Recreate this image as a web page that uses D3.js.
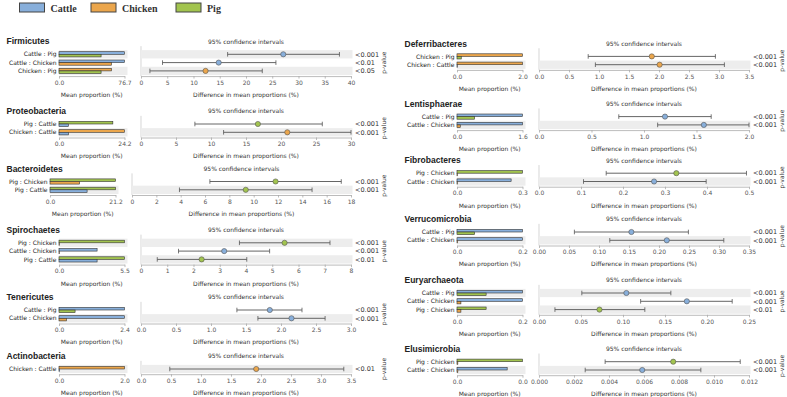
<!DOCTYPE html>
<html lang="en">
<head>
<meta charset="UTF-8" />
<title>STAMP phylum comparison</title>
<style>
  body { margin: 0; background: #fff; }
  text { font-family: "DejaVu Sans", sans-serif; }
</style>
</head>
<body>
<div class="chart"></div>
<script src="https://d3js.org/d3.v7.min.js"></script>
<script>
// hosts
const groups = ['Cattle', 'Chicken', 'Pig'];
const groupColors = ['#88afdb', '#eba64c', '#a2c44f'];

const phyla = ['Firmicutes', 'Proteobacteria', 'Bacteroidetes', 'Spirochaetes', 'Tenericutes', 'Actinobacteria',
  'Deferribacteres', 'Lentisphaerae', 'Fibrobacteres', 'Verrucomicrobia', 'Euryarchaeota', 'Elusimicrobia'];

// mean proportion (%) per host, one value per phylum
const meanCattle  = [76.7, 3.5, 12.0, 3.2, 2.4, 0.02, 0.01, 1.6, 0.248, 0.2, 0.2, 0.0059];
const meanChicken = [61.4, 24.2, 9.6, 0.03, 0.27, 2.0, 2.0, 0.08, 0.002, 0.002, 0.012, 0.0001];
const meanPig     = [49.3, 19.9, 21.2, 5.5, 0.59, null, 0.13, 0.43, 0.3, 0.054, 0.089, 0.0077];

// pairwise comparisons (first : second)
const comparisons = [
  [['Cattle', 'Pig'], ['Cattle', 'Chicken'], ['Chicken', 'Pig']],
  [['Pig', 'Cattle'], ['Chicken', 'Cattle']],
  [['Pig', 'Chicken'], ['Pig', 'Cattle']],
  [['Pig', 'Chicken'], ['Cattle', 'Chicken'], ['Pig', 'Cattle']],
  [['Cattle', 'Pig'], ['Cattle', 'Chicken']],
  [['Chicken', 'Cattle']],
  [['Chicken', 'Pig'], ['Chicken', 'Cattle']],
  [['Cattle', 'Pig'], ['Cattle', 'Chicken']],
  [['Pig', 'Chicken'], ['Cattle', 'Chicken']],
  [['Cattle', 'Pig'], ['Cattle', 'Chicken']],
  [['Cattle', 'Pig'], ['Cattle', 'Chicken'], ['Pig', 'Chicken']],
  [['Pig', 'Chicken'], ['Cattle', 'Chicken']]
];

// difference in mean proportions and 95% CI
const diffMean = [
  [27.1, 14.8, 12.3], [16.7, 20.9], [11.8, 9.35], [5.47, 3.17, 2.31], [1.84, 2.15], [1.92],
  [1.88, 2.01], [1.20, 1.57], [0.327, 0.274], [0.154, 0.213], [0.104, 0.176, 0.072], [0.00767, 0.0059]
];
const ciLow = [
  [16.5, 4.1, 1.7], [7.7, 11.8], [6.4, 3.9], [3.75, 1.43, 0.62], [1.37, 1.67], [0.48],
  [0.82, 0.94], [0.76, 1.13], [0.160, 0.106], [0.059, 0.118], [0.051, 0.121, 0.019], [0.00378, 0.00264]
];
const ciHigh = [
  [37.8, 25.7, 23.1], [25.9, 30.0], [17.2, 14.8], [7.2, 4.9, 4.03], [2.30, 2.63], [3.38],
  [2.94, 3.09], [1.64, 2.0], [0.494, 0.398], [0.249, 0.308], [0.157, 0.230, 0.126], [0.0115, 0.00925]
];
const pValues = [
  ['<0.001', '<0.01', '<0.05'], ['<0.001', '<0.001'], ['<0.001', '<0.001'], ['<0.001', '<0.001', '<0.01'],
  ['<0.001', '<0.001'], ['<0.01'], ['<0.001', '<0.001'], ['<0.001', '<0.001'], ['<0.001', '<0.001'],
  ['<0.001', '<0.001'], ['<0.001', '<0.001', '<0.01'], ['<0.001', '<0.001']
];

// CI axis tick labels
const ciTicks = [
  [0, 5, 10, 15, 20, 25, 30, 35, 40],
  [0, 5, 10, 15, 20, 25, 30],
  [0, 2, 4, 6, 8, 10, 12, 14, 16, 18],
  [0, 1, 2, 3, 4, 5, 6, 7, 8],
  [0, 0.5, 1.0, 1.5, 2.0, 2.5, 3.0],
  [0, 0.5, 1.0, 1.5, 2.0, 2.5, 3.0, 3.5],
  [0, 0.5, 1.0, 1.5, 2.0, 2.5, 3.0, 3.5],
  [0, 0.5, 1.0, 1.5, 2.0],
  [0, 0.1, 0.2, 0.3, 0.4, 0.5],
  [0, 0.05, 0.10, 0.15, 0.20, 0.25, 0.30, 0.35],
  [0, 0.05, 0.10, 0.15, 0.20, 0.25],
  [0, 0.002, 0.004, 0.006, 0.008, 0.010, 0.012]
];
const ciDigits = [0, 0, 0, 0, 1, 1, 1, 1, 1, 2, 2, 3];

// layout: y of first row of each panel
const firstRowY = [54.3, 124, 181.5, 242.8, 310, 369, 56.4, 116.6, 173.2, 232, 293, 361.7];
const rowStep = 8.3;

const svg = d3.select('.chart')
  .append('svg')
  .attr('width', 787)
  .attr('height', 397);

// 圖例
const legendX = [19.5, 91, 176];
groups.forEach((g, i) => {
  svg.append('rect')
    .attr('x', legendX[i]).attr('y', 3)
    .attr('width', 25).attr('height', 9)
    .attr('fill', groupColors[i])
    .attr('stroke', '#444').attr('stroke-width', 1);
  svg.append('text')
    .attr('x', legendX[i] + 31).attr('y', 11.5)
    .style('font-family', '"Liberation Serif", "Times New Roman", serif')
    .style('font-weight', 'bold')
    .style('font-size', '10px')
    .attr('fill', '#333')
    .text(g);
});

function textWidth(str, size) {
  const t = svg.append('text').style('font-size', size + 'px').text(str);
  const w = t.node().getComputedTextLength();
  t.remove();
  return w;
}

const meanTable = [meanCattle, meanChicken, meanPig];
const colorOf = g => groupColors[groups.indexOf(g)];

function styleAxis(g) {
  g.select('.domain').attr('stroke', '#aaa').attr('stroke-width', 0.8);
  g.selectAll('.tick line').attr('stroke', '#aaa').attr('stroke-width', 0.8);
  g.selectAll('.tick text').attr('fill', '#555').style('font-size', '6px')
    .style('font-family', '"DejaVu Sans", sans-serif');
}

phyla.forEach((name, p) => {
  const colX = p < 6 ? 0 : 398;
  const y0 = firstRowY[p];
  const rows = comparisons[p];
  const n = rows.length;
  const labels = rows.map(r => r[0] + ' : ' + r[1]);
  const meanOf = g => meanTable[groups.indexOf(g)][p];

  // 依標籤寬度決定左側位置
  const maxW = d3.max(labels, l => textWidth(l, 6));
  const labelRight = colX + 9 + maxW;
  const barX0 = labelRight + 2.5, barX1 = barX0 + 65.5;
  const ciX0 = barX0 + 82, ciX1 = colX + 351;

  const barMax = d3.max(rows.flat(), meanOf);
  const xBar = d3.scaleLinear().domain([0, barMax]).range([barX0, barX1]);
  const xCI = d3.scaleLinear().domain([0, d3.max(ciTicks[p])]).range([ciX0, ciX1]);
  const yRow = d3.scaleBand().domain(labels)
    .range([y0 - rowStep / 2, y0 - rowStep / 2 + n * rowStep]).padding(0);
  const yc = l => yRow(l) + yRow.bandwidth() / 2;
  const lastY = y0 + (n - 1) * rowStep;
  const axisY = lastY + 5.2;

  const panel = svg.append('g');

  // 標題
  panel.append('text')
    .attr('x', colX + 6.5).attr('y', y0 - 12.8)
    .attr('dy', '0.35em')
    .style('font-family', '"Liberation Sans", Arial, sans-serif')
    .style('font-weight', 'bold')
    .style('font-size', '8.5px')
    .attr('fill', '#222')
    .text(name);
  panel.append('text')
    .attr('x', (ciX0 + ciX1) / 2).attr('y', y0 - 12.8)
    .attr('dy', '0.35em')
    .attr('text-anchor', 'middle')
    .style('font-size', '6px')
    .attr('fill', '#333')
    .text('95% confidence intervals');

  // CI 左側細線
  panel.append('line')
    .attr('x1', ciX0).attr('x2', ciX0)
    .attr('y1', y0 - rowStep / 2 - 4).attr('y2', axisY)
    .attr('stroke', '#ccc').attr('stroke-width', 0.8);

  // 灰底列
  const shaded = labels.filter((l, i) => (n - 1 - i) % 2 === 0);
  panel.selectAll('.shadeBar').data(shaded).join('rect')
    .attr('x', barX0).attr('y', l => yRow(l))
    .attr('width', barX1 - barX0 + 3).attr('height', yRow.bandwidth())
    .attr('fill', '#ededed');
  panel.selectAll('.shadeCI').data(shaded).join('rect')
    .attr('x', ciX0).attr('y', l => yRow(l))
    .attr('width', ciX1 - ciX0 + 1.5).attr('height', yRow.bandwidth())
    .attr('fill', '#ededed');

  // 列標籤
  panel.selectAll('.rowLabel').data(labels).join('text')
    .attr('x', labelRight).attr('y', l => yc(l))
    .attr('dy', '0.35em')
    .attr('text-anchor', 'end')
    .style('font-size', '6px')
    .attr('fill', '#222')
    .text(l => l);

  // 平均比例長條 (上: 第一組, 下: 第二組)
  const barH = 2.6;
  const barData = rows.flatMap((r, i) => [
    { g: r[0], y: yc(labels[i]) - barH },
    { g: r[1], y: yc(labels[i]) }
  ]);
  panel.selectAll('.bar').data(barData).join('rect')
    .attr('x', xBar(0))
    .attr('y', d => d.y)
    .attr('width', d => xBar(meanOf(d.g)) - xBar(0))
    .attr('height', barH)
    .attr('fill', d => colorOf(d.g))
    .attr('stroke', '#333').attr('stroke-width', 0.6);

  // 軸
  const barAxis = panel.append('g')
    .attr('transform', `translate(0,${axisY})`)
    .call(d3.axisBottom(xBar).tickValues([0, barMax]).tickFormat(d3.format('.1f'))
      .tickSize(2.5).tickSizeOuter(0).tickPadding(2));
  styleAxis(barAxis);

  const ciAxis = panel.append('g')
    .attr('transform', `translate(0,${axisY})`)
    .call(d3.axisBottom(xCI).tickValues(ciTicks[p]).tickFormat(d3.format('.' + ciDigits[p] + 'f'))
      .tickSize(2.5).tickSizeOuter(0).tickPadding(2));
  styleAxis(ciAxis);

  panel.append('text')
    .attr('x', (barX0 + barX1) / 2).attr('y', lastY + 24)
    .attr('dy', '0.35em')
    .attr('text-anchor', 'middle')
    .style('font-size', '6px')
    .attr('fill', '#333')
    .text('Mean proportion (%)');
  panel.append('text')
    .attr('x', (ciX0 + ciX1) / 2).attr('y', lastY + 24)
    .attr('dy', '0.35em')
    .attr('text-anchor', 'middle')
    .style('font-size', '6px')
    .attr('fill', '#333')
    .text('Difference in mean proportions (%)');

  // 信賴區間
  const ci = labels.map((l, i) => ({
    y: yc(l), d: diffMean[p][i], lo: ciLow[p][i], hi: ciHigh[p][i], g: rows[i][0], pv: pValues[p][i]
  }));
  panel.selectAll('.ciLine').data(ci).join('line')
    .attr('x1', d => xCI(d.lo)).attr('x2', d => xCI(d.hi))
    .attr('y1', d => d.y).attr('y2', d => d.y)
    .attr('stroke', '#555').attr('stroke-width', 0.9);
  panel.selectAll('.capLo').data(ci).join('line')
    .attr('x1', d => xCI(d.lo)).attr('x2', d => xCI(d.lo))
    .attr('y1', d => d.y - 2.3).attr('y2', d => d.y + 2.3)
    .attr('stroke', '#555').attr('stroke-width', 0.8);
  panel.selectAll('.capHi').data(ci).join('line')
    .attr('x1', d => xCI(d.hi)).attr('x2', d => xCI(d.hi))
    .attr('y1', d => d.y - 2.3).attr('y2', d => d.y + 2.3)
    .attr('stroke', '#555').attr('stroke-width', 0.8);
  panel.selectAll('.ciDot').data(ci).join('circle')
    .attr('cx', d => xCI(d.d)).attr('cy', d => d.y)
    .attr('r', 2.6)
    .attr('fill', d => colorOf(d.g))
    .attr('stroke', '#555').attr('stroke-width', 0.6);

  // p 值
  panel.selectAll('.pv').data(ci).join('text')
    .attr('x', colX + 355).attr('y', d => d.y)
    .attr('dy', '0.35em')
    .style('font-size', '6.5px')
    .attr('fill', '#333')
    .text(d => d.pv);
  panel.append('text')
    .attr('transform', `translate(${colX + 384},${(y0 + lastY) / 2}) rotate(-90)`)
    .attr('dy', '0.35em')
    .attr('text-anchor', 'middle')
    .style('font-size', '6px')
    .attr('fill', '#333')
    .text('p-value');
});
</script>
</body>
</html>
